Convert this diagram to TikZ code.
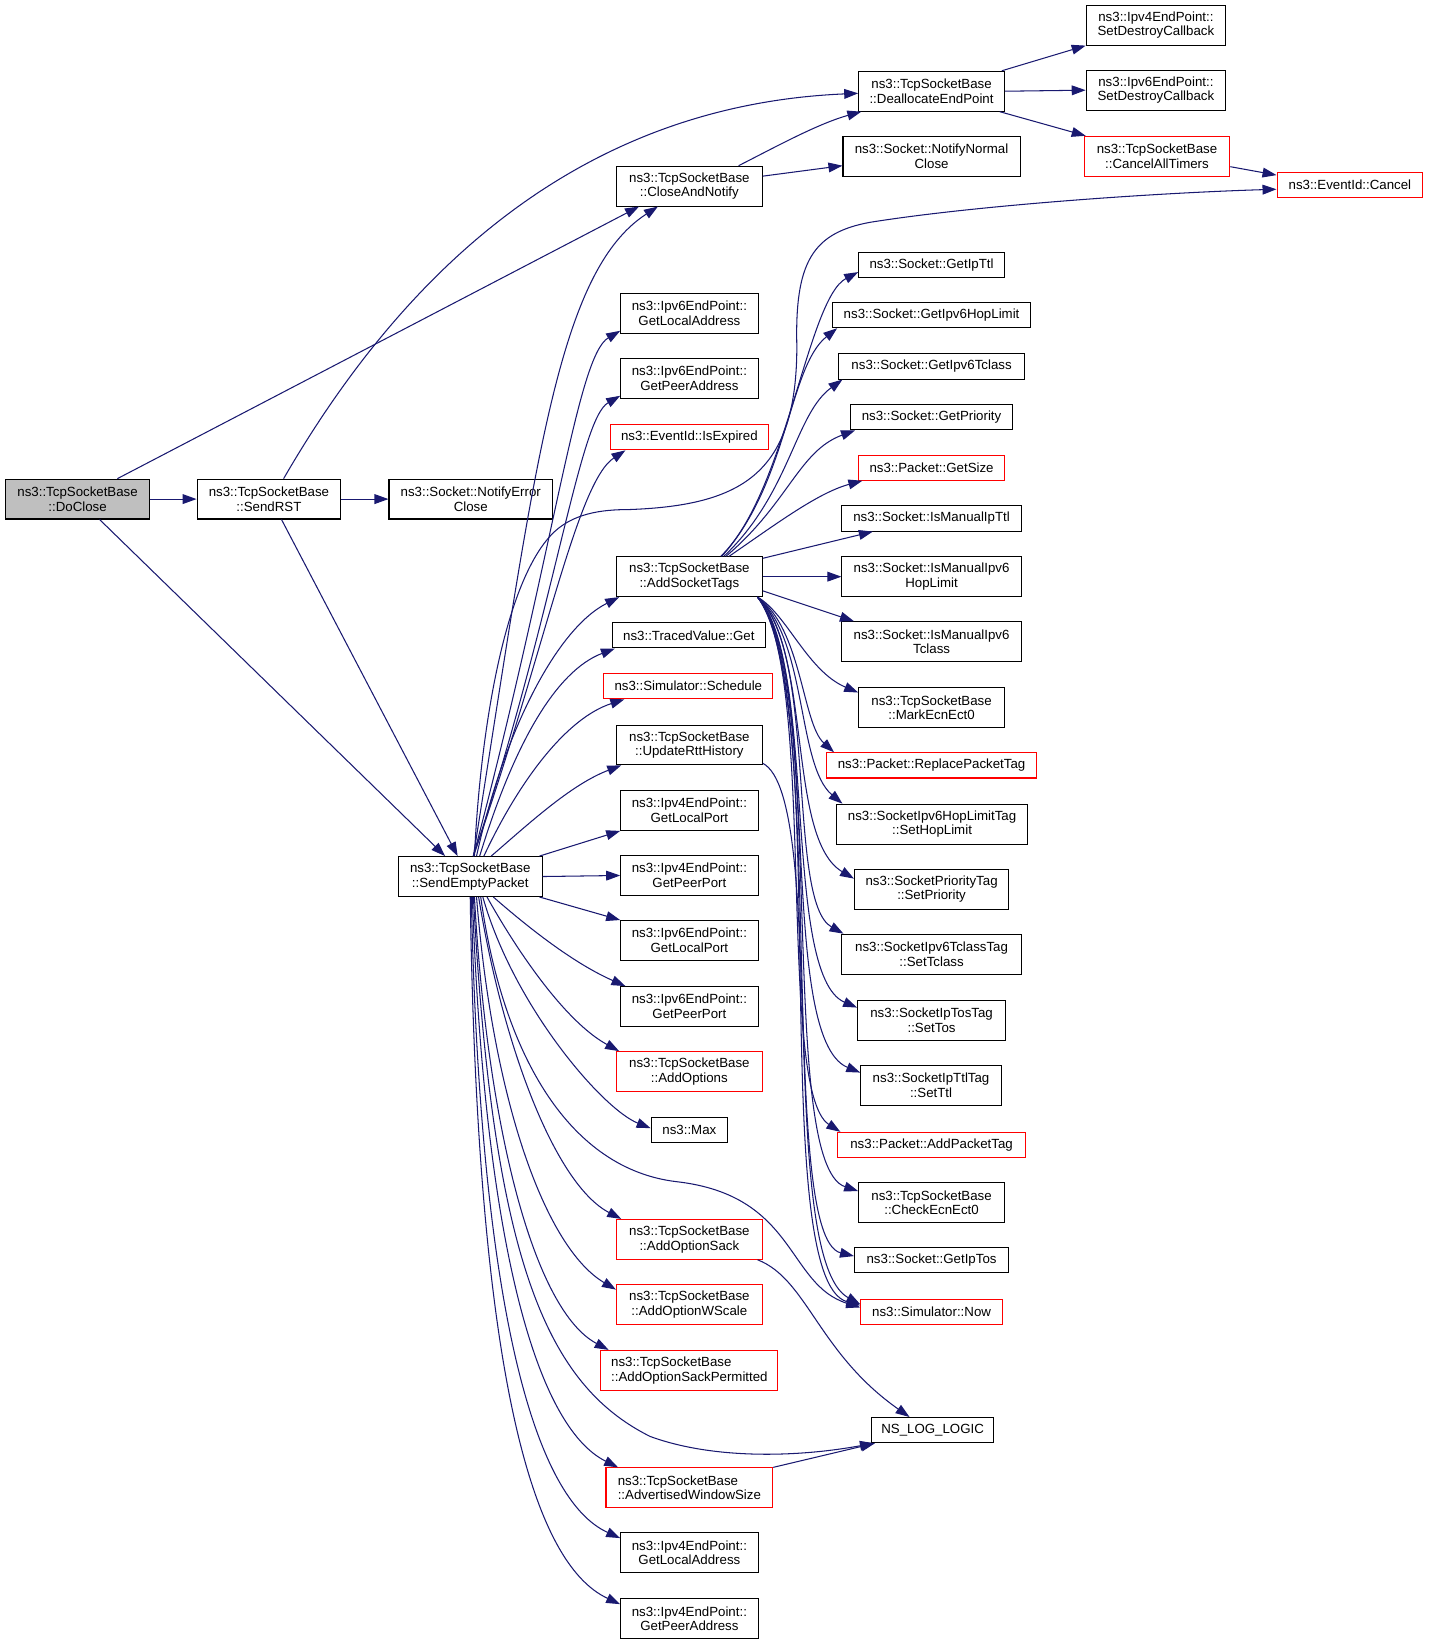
\documentclass[tikz,border=0pt]{standalone}
\usepackage{fontspec}
\setmainfont{Liberation Sans}
\usetikzlibrary{arrows.meta,calc}
\definecolor{edgec}{RGB}{25,25,112}
\definecolor{grayfill}{RGB}{191,191,191}
\begin{document}
\begin{tikzpicture}[x=0.75pt,y=-0.75pt,
  box/.style 2 args={draw=black,line width=0.75pt,fill=white,minimum width=#1*0.75pt,minimum height=#2*0.75pt,inner sep=0pt,align=center,font=\fontsize{9.5}{10.5}\selectfont},
  rbox/.style 2 args={box={#1}{#2},draw=red},
  edge/.style={draw=edgec,line width=0.75pt,-{Triangle[length=10pt,width=7pt]}},
]
\useasboundingbox (0,0) rectangle (1363,1568);
% column 0/1
\node[box={138}{38},fill=grayfill] (doclose) at (74,476) {ns3::TcpSocketBase\\::DoClose};
\node[box={137}{38}] (sendrst) at (256.5,476) {ns3::TcpSocketBase\\::SendRST};
\node[box={156}{38}] (notifyerr) at (449,476) {ns3::Socket::NotifyError\\Close};
\node[box={137}{38}] (sep) at (448.5,836) {ns3::TcpSocketBase\\::SendEmptyPacket};
% column 2
\node[box={139}{38}] (closenotify) at (657.5,177.5) {ns3::TcpSocketBase\\::CloseAndNotify};
\node[box={131}{38}] (v6localaddr) at (657.5,299) {ns3::Ipv6EndPoint::\\GetLocalAddress};
\node[box={131}{38}] (v6peeraddr) at (657.5,361) {ns3::Ipv6EndPoint::\\GetPeerAddress};
\node[rbox={151}{24}] (isexpired) at (657.5,417) {ns3::EventId::IsExpired};
\node[box={139}{38}] (addsockettags) at (657.5,550) {ns3::TcpSocketBase\\::AddSocketTags};
\node[box={146}{24}] (tracedget) at (657,606) {ns3::TracedValue::Get};
\node[rbox={161}{24}] (schedule) at (656.5,654.5) {ns3::Simulator::Schedule};
\node[box={139}{38}] (updatertt) at (657.5,710.5) {ns3::TcpSocketBase\\::UpdateRttHistory};
\node[box={131}{38}] (v4localport) at (657.5,773) {ns3::Ipv4EndPoint::\\GetLocalPort};
\node[box={131}{38}] (v4peerport) at (657.5,835) {ns3::Ipv4EndPoint::\\GetPeerPort};
\node[box={131}{38}] (v6localport) at (657.5,897) {ns3::Ipv6EndPoint::\\GetLocalPort};
\node[box={131}{38}] (v6peerport) at (657.5,960) {ns3::Ipv6EndPoint::\\GetPeerPort};
\node[rbox={139}{38}] (addoptions) at (657.5,1022) {ns3::TcpSocketBase\\::AddOptions};
\node[box={73}{24}] (max) at (657.5,1078) {ns3::Max};
\node[rbox={139}{38}] (addoptionsack) at (657.5,1182) {ns3::TcpSocketBase\\::AddOptionSack};
\node[rbox={139}{38}] (addoptionwscale) at (657.5,1244) {ns3::TcpSocketBase\\::AddOptionWScale};
\node[rbox={169}{38},align=left] (addoptionsackperm) at (657.5,1307) {ns3::TcpSocketBase\\::AddOptionSackPermitted};
\node[rbox={159}{38},align=left] (advwin) at (657.5,1419) {ns3::TcpSocketBase\\::AdvertisedWindowSize};
\node[box={131}{38}] (v4localaddr) at (657.5,1481) {ns3::Ipv4EndPoint::\\GetLocalAddress};
\node[box={131}{38}] (v4peeraddr) at (657.5,1544) {ns3::Ipv4EndPoint::\\GetPeerAddress};
% column 3
\node[box={139}{38}] (dealloc) at (888.5,87) {ns3::TcpSocketBase\\::DeallocateEndPoint};
\node[box={169}{38}] (notifynormal) at (888.5,149) {ns3::Socket::NotifyNormal\\Close};
\node[box={139}{24}] (getipttl) at (888.5,252.5) {ns3::Socket::GetIpTtl};
\node[box={189}{24}] (getipv6hop) at (888.5,300.5) {ns3::Socket::GetIpv6HopLimit};
\node[box={177}{24}] (getipv6tclass) at (888.5,349.5) {ns3::Socket::GetIpv6Tclass};
\node[box={155}{24}] (getpriority) at (888.5,398) {ns3::Socket::GetPriority};
\node[rbox={139}{24}] (getsize) at (888.5,446) {ns3::Packet::GetSize};
\node[box={171}{24}] (ismanualipttl) at (888.5,494.5) {ns3::Socket::IsManualIpTtl};
\node[box={171}{38}] (ismanualv6hop) at (888.5,550) {ns3::Socket::IsManualIpv6\\HopLimit};
\node[box={171}{38}] (ismanualv6tclass) at (888.5,612) {ns3::Socket::IsManualIpv6\\Tclass};
\node[box={139}{38}] (markecn) at (888.5,675) {ns3::TcpSocketBase\\::MarkEcnEct0};
\node[rbox={201}{24}] (replacepkttag) at (888.5,730) {ns3::Packet::ReplacePacketTag};
\node[box={182}{38}] (sethoplimit) at (889,786) {ns3::SocketIpv6HopLimitTag\\::SetHopLimit};
\node[box={147}{38}] (setpriority) at (888.5,848) {ns3::SocketPriorityTag\\::SetPriority};
\node[box={171}{38}] (settclass) at (888.5,910) {ns3::SocketIpv6TclassTag\\::SetTclass};
\node[box={141}{38}] (settos) at (888.5,973) {ns3::SocketIpTosTag\\::SetTos};
\node[box={134}{38}] (setttl) at (888,1035) {ns3::SocketIpTtlTag\\::SetTtl};
\node[rbox={179}{24}] (addpkttag) at (888.5,1092) {ns3::Packet::AddPacketTag};
\node[box={139}{38}] (checkecn) at (888.5,1147) {ns3::TcpSocketBase\\::CheckEcnEct0};
\node[box={147}{24}] (getiptos) at (888.5,1202) {ns3::Socket::GetIpTos};
\node[rbox={135}{24}] (now) at (888.5,1251) {ns3::Simulator::Now};
\node[box={117}{24}] (nslog) at (889.5,1364) {NS\_LOG\_LOGIC};
% column 4
\node[box={133}{38}] (v4setdestroy) at (1102.5,24) {ns3::Ipv4EndPoint::\\SetDestroyCallback};
\node[box={133}{38}] (v6setdestroy) at (1102.5,86) {ns3::Ipv6EndPoint::\\SetDestroyCallback};
\node[rbox={139}{38}] (cancelall) at (1103.5,149) {ns3::TcpSocketBase\\::CancelAllTimers};
\node[rbox={139}{24}] (cancel) at (1287.5,176.5) {ns3::EventId::Cancel};

% DoClose
\draw[edge] (doclose) -- (sendrst);
\draw[edge] ($(doclose.north)+(38,0)$) -- ($(closenotify.south west)+(22,0)$);
\draw[edge] ($(doclose.south)+(21,0)$) -- ($(sep.north)+(-24,0)$);
% SendRST
\draw[edge] (sendrst) -- (notifyerr);
\draw[edge] ($(sendrst.south)+(12,0)$) -- ($(sep.north)+(-12,0)$);
\draw[edge] ($(sendrst.north)+(14,0)$) .. controls (390,250) and (560,100) .. ($(dealloc.west)+(0,2)$);
% CloseAndNotify
\draw[edge] ($(closenotify.north)+(47,0)$) .. controls (740,140) and (780,118) .. ($(dealloc.south west)+(3,0)$);
\draw[edge] ($(closenotify.east)+(0,-9.5)$) -- ($(notifynormal.west)+(0,9)$);
% DeallocateEndPoint
\draw[edge] ($(dealloc.north east)+(-3,0)$) -- (v4setdestroy.south west);
\draw[edge] (dealloc.east) -- (v6setdestroy.west);
\draw[edge] ($(dealloc.south east)+(-5,0)$) -- ($(cancelall.north west)+(2,0)$);
\draw[edge] ($(cancelall.east)+(0,10)$) -- ($(cancel.west)+(0,-9.5)$);
% SendEmptyPacket upward
\draw[edge] ($(sep.north)+(4,0)$) .. controls (458,700) and (480,560) .. (525,511) .. controls (545,489) and (575,486) .. (600,486) .. controls (710,482) and (760,450) .. (760,330) .. controls (758,250) and (775,222) .. (830,212) .. controls (930,196) and (1100,184) .. ($(cancel.west)+(0,4)$);
\draw[edge] ($(sep.north)+(3,0)$) .. controls (510,450) and (530,260) .. ($(closenotify.south)+(-30,0)$);
\draw[edge] ($(sep.north)+(3,0)$) .. controls (530,520) and (550,340) .. ($(v6localaddr.south west)+(0,-3)$);
\draw[edge] ($(sep.north)+(3,0)$) .. controls (530,580) and (552,400) .. ($(v6peeraddr.south west)+(0,-3)$);
\draw[edge] ($(sep.north)+(3,0)$) .. controls (520,620) and (550,460) .. ($(isexpired.south west)+(15,0)$);
\draw[edge] ($(sep.north)+(6,0)$) .. controls (480,700) and (530,600) .. ($(addsockettags.south west)+(3,0)$);
\draw[edge] ($(sep.north)+(9,0)$) .. controls (490,710) and (530,640) .. ($(tracedget.south west)+(3,0)$);
\draw[edge] ($(sep.north)+(13,0)$) .. controls (495,745) and (540,685) .. ($(schedule.south west)+(20,0)$);
\draw[edge] ($(sep.north)+(20,0)$) .. controls (505,785) and (545,748) .. ($(updatertt.south west)+(5,0)$);
\draw[edge] ($(sep.north east)+(-3,0)$) -- (v4localport.south west);
\draw[edge] (sep.east) -- (v4peerport.west);
\draw[edge] ($(sep.south east)+(-3,0)$) -- (v6localport.north west);
% SendEmptyPacket downward
\draw[edge] ($(sep.south)+(22,0)$) .. controls (510,890) and (550,920) .. ($(v6peerport.north west)+(5,0)$);
\draw[edge] ($(sep.south)+(16,0)$) .. controls (495,910) and (540,975) .. ($(addoptions.north west)+(3,0)$);
\draw[edge] ($(sep.south)+(12,0)$) .. controls (490,960) and (575,1058) .. ($(max.west)+(0,-2)$);
\draw[edge] ($(sep.south)+(8,0)$) .. controls (480,1000) and (530,1130) .. ($(addoptionsack.north west)+(5,0)$);
\draw[edge] ($(sep.south)+(10,0)$) .. controls (480,1010) and (545,1115) .. (645,1127) .. controls (760,1140) and (750,1225) .. ($(now.west)+(0,-4)$);
\draw[edge] ($(sep.south)+(6,0)$) .. controls (470,1050) and (520,1190) .. ($(addoptionwscale.west)+(0,-14)$);
\draw[edge] ($(sep.south)+(4,0)$) .. controls (465,1080) and (510,1250) .. ($(addoptionsackperm.north west)+(8,0)$);
\draw[edge] ($(sep.south)+(3,0)$) .. controls (470,1200) and (520,1320) .. (620,1370) .. controls (680,1392) and (760,1390) .. ($(nslog.south west)+(3,0)$);
\draw[edge] ($(sep.south)+(2,0)$) .. controls (462,1180) and (510,1360) .. ($(advwin.north west)+(12,0)$);
\draw[edge] ($(sep.south)+(1,0)$) .. controls (458,1250) and (510,1430) .. ($(v4localaddr.west)+(0,-14)$);
\draw[edge] (sep.south) .. controls (455,1300) and (505,1490) .. ($(v4peeraddr.west)+(0,-14)$);
% AddSocketTags upward
\draw[edge] ($(addsockettags.north)+(30,0)$) .. controls (750,470) and (770,285) .. ($(getipttl.west)+(0,7)$);
\draw[edge] ($(addsockettags.north)+(31,0)$) .. controls (752,460) and (752,350) .. ($(getipv6hop.south west)+(5,0)$);
\draw[edge] ($(addsockettags.north)+(33,0)$) .. controls (754,470) and (758,395) .. ($(getipv6tclass.south west)+(4,0)$);
\draw[edge] ($(addsockettags.north)+(35,0)$) .. controls (752,480) and (762,430) .. ($(getpriority.south west)+(5,0)$);
\draw[edge] ($(addsockettags.north)+(38,0)$) .. controls (740,500) and (780,470) .. ($(getsize.south west)+(4,0)$);
\draw[edge] ($(addsockettags.north east)+(0,2)$) -- ($(ismanualipttl.south west)+(30,0)$);
\draw[edge] (addsockettags) -- (ismanualv6hop);
\draw[edge] ($(addsockettags.south east)+(0,-6)$) -- ($(ismanualv6tclass.north west)+(12,0)$);
% AddSocketTags downward
\draw[edge] ($(addsockettags.south east)+(-5,0)$) .. controls (750,585) and (770,640) .. ($(markecn.north west)+(0,5)$);
\draw[edge] ($(addsockettags.south east)+(-5,0)$) .. controls (765,600) and (765,690) .. ($(replacepkttag.north west)+(8,0)$);
\draw[edge] ($(addsockettags.south east)+(-5,0)$) .. controls (770,610) and (760,730) .. ($(sethoplimit.north west)+(6,0)$);
\draw[edge] ($(addsockettags.south east)+(-5,0)$) .. controls (775,620) and (750,800) .. ($(setpriority.west)+(0,-10)$);
\draw[edge] ($(addsockettags.south east)+(-5,0)$) .. controls (780,620) and (750,860) .. ($(settclass.north west)+(2,0)$);
\draw[edge] ($(addsockettags.south east)+(-5,0)$) .. controls (780,630) and (745,930) .. ($(settos.west)+(0,-12)$);
\draw[edge] ($(addsockettags.south east)+(-5,0)$) .. controls (785,640) and (740,990) .. ($(setttl.west)+(0,-12)$);
\draw[edge] ($(addsockettags.south east)+(-5,0)$) .. controls (780,640) and (740,1040) .. ($(addpkttag.north west)+(3,0)$);
\draw[edge] ($(addsockettags.south east)+(-5,0)$) .. controls (790,650) and (740,1110) .. ($(checkecn.west)+(0,-11)$);
\draw[edge] ($(addsockettags.south east)+(-5,0)$) .. controls (790,660) and (740,1180) .. ($(getiptos.west)+(0,-4)$);
\draw[edge] ($(addsockettags.south east)+(-5,0)$) .. controls (795,660) and (730,1220) .. ($(now.west)+(0,-6)$);
% others
\draw[edge] ($(updatertt.south east)+(0,-2)$) .. controls (790,760) and (740,1200) .. ($(now.west)+(0,-7)$);
\draw[edge] ($(addoptionsack.south east)+(-5,0)$) .. controls (770,1220) and (780,1290) .. ($(nslog.north west)+(37,0)$);
\draw[edge] (advwin.north east) -- ($(nslog.south west)+(4,0)$);
\end{tikzpicture}
\end{document}
